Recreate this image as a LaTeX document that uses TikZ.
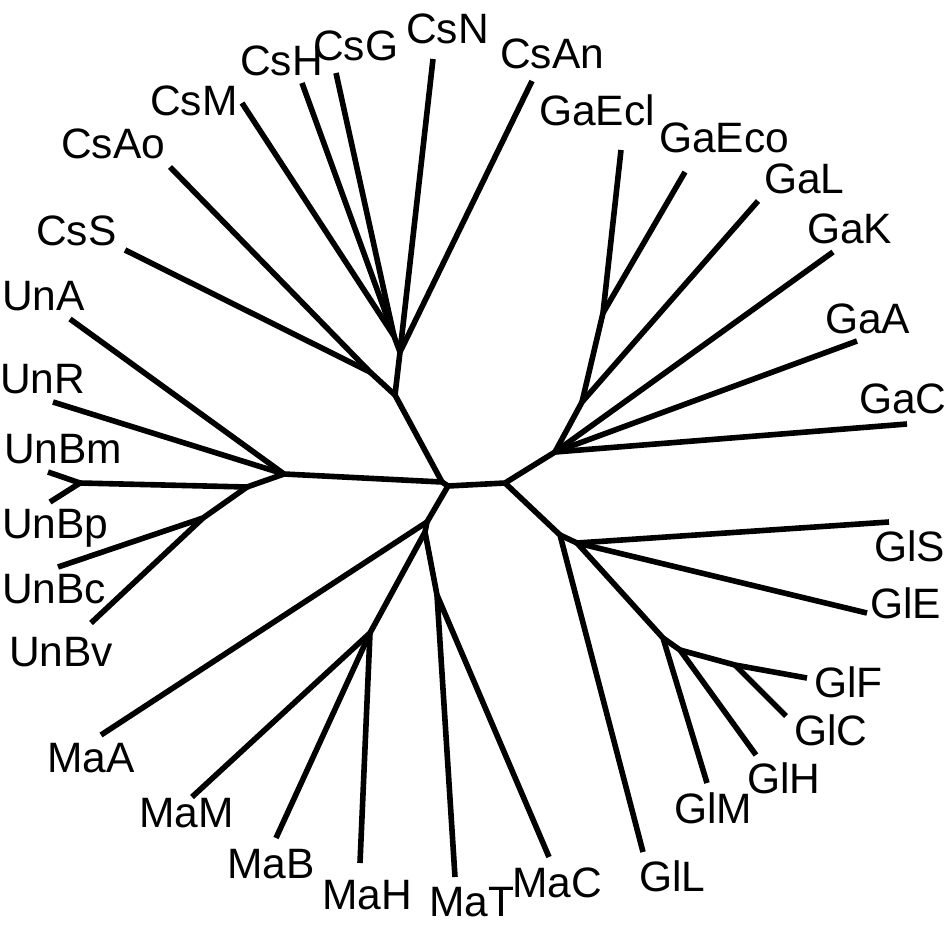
\documentclass[tikz,border=0pt]{standalone}
\usepackage{fontspec}
\setmainfont{Liberation Sans}
\begin{document}
\begin{tikzpicture}[x=1pt,y=-1pt,
  branch/.style={line width=5.6pt,line join=round,line cap=butt},
  lbl/.style={anchor=base west,inner sep=0pt,font=\fontsize{42.5}{50}\selectfont}]
\useasboundingbox (0,0) rectangle (947,924);
% internal nodes
\coordinate (C0) at (442,482);
\coordinate (C1) at (448,486);
\coordinate (C3) at (395,395);
\coordinate (Css) at (370,372);
\coordinate (Cu) at (400,352);
\coordinate (Ck) at (394,336);
\coordinate (U0) at (284,474);
\coordinate (U1) at (247,487);
\coordinate (U2) at (80,483);
\coordinate (U3) at (203,518);
\coordinate (M0) at (427,522);
\coordinate (M1) at (425,532);
\coordinate (M2) at (370,633);
\coordinate (M3) at (437,595);
\coordinate (R) at (505,483);
\coordinate (G0) at (555,452);
\coordinate (G1) at (582,402);
\coordinate (G2) at (603,313);
\coordinate (L0) at (560,535);
\coordinate (L1) at (577,543);
\coordinate (L2) at (663,638);
\coordinate (L3) at (680,650);
\coordinate (L4) at (735,665);
% leaf ends
\coordinate (eCsN) at (433,59);
\coordinate (eCsG) at (336,73);
\coordinate (eCsH) at (302,83);
\coordinate (eCsM) at (242,103);
\coordinate (eCsAo) at (170,167);
\coordinate (eCsS) at (125,250);
\coordinate (eUnA) at (70,319);
\coordinate (eUnR) at (53,402);
\coordinate (eUnBm) at (48,472);
\coordinate (eUnBp) at (50,502);
\coordinate (eUnBc) at (58,567);
\coordinate (eUnBv) at (91,623);
\coordinate (eMaA) at (101,735);
\coordinate (eMaM) at (192,797);
\coordinate (eMaB) at (276,838);
\coordinate (eMaH) at (360,863);
\coordinate (eMaT) at (455,877);
\coordinate (eMaC) at (549,857);
\coordinate (eGlL) at (643,852);
\coordinate (eGlM) at (707,783);
\coordinate (eGlH) at (756,755);
\coordinate (eGlC) at (786,716);
\coordinate (eGlF) at (807,678);
\coordinate (eGlE) at (867,613);
\coordinate (eGlS) at (889,522);
\coordinate (eGaC) at (907,424);
\coordinate (eGaA) at (857,341);
\coordinate (eGaK) at (833,252);
\coordinate (eGaL) at (758,201);
\coordinate (eGaEco) at (685,172);
\coordinate (eGaEcl) at (621,150);
\coordinate (eCsAn) at (532,81);
% labels
\node[lbl] (CsN) at (406,43) {CsN};
\node[lbl] (CsG) at (313,60) {CsG};
\node[lbl] (CsH) at (240,75) {CsH};
\node[lbl] (CsM) at (150,115) {CsM};
\node[lbl] (CsAo) at (61,158) {CsAo};
\node[lbl] (CsS) at (36,245) {CsS};
\node[lbl] (UnA) at (2,310) {UnA};
\node[lbl] (UnR) at (0,393) {UnR};
\node[lbl] (UnBm) at (4,463) {UnBm};
\node[lbl] (UnBp) at (2,538) {UnBp};
\node[lbl] (UnBc) at (2,603) {UnBc};
\node[lbl] (UnBv) at (9,666) {UnBv};
\node[lbl] (MaA) at (47,772) {MaA};
\node[lbl] (MaM) at (139,827) {MaM};
\node[lbl] (MaB) at (227,878) {MaB};
\node[lbl] (MaH) at (322,909) {MaH};
\node[lbl] (MaT) at (429,916) {MaT};
\node[lbl] (MaC) at (512,897) {MaC};
\node[lbl] (GlL) at (639,891) {GlL};
\node[lbl] (GlM) at (674,823) {GlM};
\node[lbl] (GlH) at (747,793) {GlH};
\node[lbl] (GlC) at (794,745) {GlC};
\node[lbl] (GlF) at (814,697) {GlF};
\node[lbl] (GlE) at (870,618) {GlE};
\node[lbl] (GlS) at (874,561) {GlS};
\node[lbl] (GaC) at (859,413) {GaC};
\node[lbl] (GaA) at (825,333) {GaA};
\node[lbl] (GaK) at (807,243) {GaK};
\node[lbl] (GaL) at (764,193) {GaL};
\node[lbl] (GaEco) at (659,152) {GaEco};
\node[lbl] (GaEcl) at (539,125) {GaEcl};
\node[lbl] (CsAn) at (500,68) {CsAn};
% branches
\draw[branch] (U0) -- (C0) -- (C1) -- (R);
\draw[branch] (C0) -- (C3);
\draw[branch] (C1) -- (M0) -- (M1);
\draw[branch] (C3) -- (Css) -- (eCsAo);
\draw[branch] (Css) -- (eCsS);
\draw[branch] (C3) -- (Cu) -- (eCsN);
\draw[branch] (Cu) -- (eCsAn);
\draw[branch] (Cu) -- (Ck) -- (eCsM);
\draw[branch] (Ck) -- (eCsH);
\draw[branch] (Ck) -- (eCsG);
\draw[branch] (U0) -- (eUnA);
\draw[branch] (U0) -- (eUnR);
\draw[branch] (U0) -- (U1) -- (U2) -- (eUnBm);
\draw[branch] (U2) -- (eUnBp);
\draw[branch] (U1) -- (U3) -- (eUnBc);
\draw[branch] (U3) -- (eUnBv);
\draw[branch] (M0) -- (eMaA);
\draw[branch] (M1) -- (M2) -- (eMaM);
\draw[branch] (M2) -- (eMaB);
\draw[branch] (M2) -- (eMaH);
\draw[branch] (M1) -- (M3) -- (eMaT);
\draw[branch] (M3) -- (eMaC);
\draw[branch] (R) -- (G0) -- (eGaC);
\draw[branch] (G0) -- (eGaA);
\draw[branch] (G0) -- (eGaK);
\draw[branch] (G0) -- (G1) -- (eGaL);
\draw[branch] (G1) -- (G2) -- (eGaEcl);
\draw[branch] (G2) -- (eGaEco);
\draw[branch] (R) -- (L0) -- (eGlL);
\draw[branch] (L0) -- (L1) -- (eGlS);
\draw[branch] (L1) -- (eGlE);
\draw[branch] (L1) -- (L2) -- (eGlM);
\draw[branch] (L2) -- (L3) -- (eGlH);
\draw[branch] (L3) -- (L4) -- (eGlF);
\draw[branch] (L4) -- (eGlC);
\end{tikzpicture}
\end{document}
